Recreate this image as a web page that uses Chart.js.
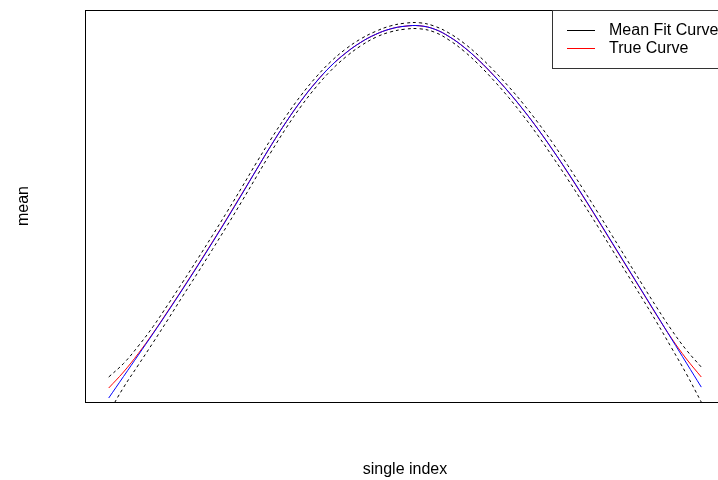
<!DOCTYPE html>
<html>
<head>
<meta charset="utf-8">
<script src="https://cdn.jsdelivr.net/npm/chart.js@4.4.0/dist/chart.umd.min.js"></script>
<style>
  html, body { margin: 0; padding: 0; background: #fff; overflow: hidden; }
  #wrap { width: 718px; height: 480px; overflow: hidden; }
</style>
</head>
<body>
<div id="wrap"><canvas id="curveChart" width="730" height="480"></canvas></div>
<script>
// single index grid
const singleIndex = [-1, -0.95, -0.9, -0.85, -0.8, -0.75, -0.7, -0.65, -0.6, -0.55, -0.5,
  -0.45, -0.4, -0.35, -0.3, -0.25, -0.2, -0.15, -0.1, -0.05, 0,
  0.05, 0.1, 0.15, 0.2, 0.25, 0.3, 0.35, 0.4, 0.45, 0.5,
  0.55, 0.6, 0.65, 0.7, 0.75, 0.8, 0.85, 0.9, 0.95, 1];

const meanFit = [0.02, 0.235, 0.45, 0.665, 0.885, 1.11, 1.34, 1.575, 1.815, 2.06, 2.31,
  2.555, 2.785, 2.995, 3.18, 3.34, 3.47, 3.575, 3.655, 3.71, 3.738,
  3.742, 3.708, 3.632, 3.526, 3.395, 3.244, 3.079, 2.899, 2.704, 2.494,
  2.274, 2.044, 1.809, 1.569, 1.329, 1.089, 0.849, 0.609, 0.369, 0.129];

const trueCurve = [0.12, 0.28, 0.465, 0.67, 0.89, 1.115, 1.345, 1.58, 1.82, 2.065, 2.31,
  2.555, 2.785, 2.995, 3.18, 3.34, 3.47, 3.575, 3.655, 3.71, 3.738,
  3.742, 3.708, 3.632, 3.526, 3.395, 3.244, 3.079, 2.899, 2.704, 2.494,
  2.27, 2.04, 1.804, 1.564, 1.324, 1.085, 0.845, 0.615, 0.41, 0.23];

const upperBand = [0.23, 0.365, 0.54, 0.735, 0.955, 1.18, 1.41, 1.645, 1.885, 2.13, 2.38,
  2.62, 2.845, 3.05, 3.23, 3.385, 3.51, 3.61, 3.685, 3.74, 3.768,
  3.772, 3.738, 3.667, 3.566, 3.44, 3.294, 3.134, 2.959, 2.769, 2.564,
  2.344, 2.114, 1.879, 1.639, 1.399, 1.159, 0.924, 0.699, 0.499, 0.329];

const lowerBand = [-0.13, 0.125, 0.35, 0.575, 0.805, 1.04, 1.27, 1.505, 1.745, 1.99, 2.24,
  2.49, 2.725, 2.94, 3.13, 3.295, 3.43, 3.54, 3.625, 3.68, 3.708,
  3.712, 3.678, 3.597, 3.486, 3.35, 3.194, 3.024, 2.839, 2.639, 2.424,
  2.204, 1.974, 1.739, 1.499, 1.259, 1.019, 0.774, 0.519, 0.259, -0.021];

const legendLabels = ['Mean Fit Curve', 'True Curve'];
const legendColors = ['#000000', '#ff0000'];

const FONT = '16px "Liberation Sans", Arial, Helvetica, sans-serif';

function toPoints(ys) {
  return singleIndex.map((x, i) => ({ x: x, y: ys[i] }));
}

function lineSet(label, ys, color, dash) {
  return {
    label: label,
    data: toPoints(ys),
    borderColor: color,
    borderWidth: 1,
    borderDash: dash || [],
    pointRadius: 0,
    fill: false,
    tension: 0.4
  };
}

// box, axis titles and legend in base-graphics style
const basePlot = {
  id: 'basePlot',
  afterDraw(chart) {
    const ctx = chart.ctx;
    const a = chart.chartArea;
    ctx.save();
    ctx.strokeStyle = '#000';
    ctx.lineWidth = 1;
    ctx.strokeRect(Math.round(a.left) + 0.5, Math.round(a.top) + 0.5,
      Math.round(a.right - a.left), Math.round(a.bottom - a.top));

    ctx.fillStyle = '#000';
    ctx.font = FONT;
    ctx.textAlign = 'center';
    ctx.textBaseline = 'middle';
    ctx.fillText('single index', (a.left + a.right) / 2, 470);
    ctx.save();
    ctx.translate(24, (a.top + a.bottom) / 2);
    ctx.rotate(-Math.PI / 2);
    ctx.fillText('mean', 0, 0);
    ctx.restore();

    // legend
    const lx = 552.5, ly = a.top + 0.5;
    ctx.fillStyle = '#fff';
    ctx.fillRect(lx, ly, a.right - lx, 58);
    ctx.strokeStyle = '#333';
    ctx.strokeRect(lx, ly, a.right - lx, 58);
    legendLabels.forEach((t, i) => {
      const y = 30.5 + i * 18;
      ctx.strokeStyle = legendColors[i];
      ctx.beginPath();
      ctx.moveTo(567, y);
      ctx.lineTo(595, y);
      ctx.stroke();
      ctx.fillStyle = '#000';
      ctx.textAlign = 'left';
      ctx.fillText(t, 609, y + 0.5);
    });
    ctx.restore();
  }
};

new Chart(document.getElementById('curveChart').getContext('2d'), {
  type: 'line',
  data: {
    datasets: [
      lineSet('Mean Fit Curve', meanFit, '#0000ff'),
      lineSet('True Curve', trueCurve, '#ff0000'),
      lineSet('Upper', upperBand, '#000000', [3, 3]),
      lineSet('Lower', lowerBand, '#000000', [3, 3])
    ]
  },
  options: {
    responsive: false,
    devicePixelRatio: 1,
    animation: false,
    layout: { padding: { left: 85, right: 5, top: 10, bottom: 78 } },
    plugins: { legend: { display: false }, tooltip: { enabled: false } },
    scales: {
      x: { type: 'linear', display: false, min: -1.08, max: 1.08 },
      y: { type: 'linear', display: false, min: -0.02, max: 3.90 }
    }
  },
  plugins: [basePlot]
});
</script>
</body>
</html>
